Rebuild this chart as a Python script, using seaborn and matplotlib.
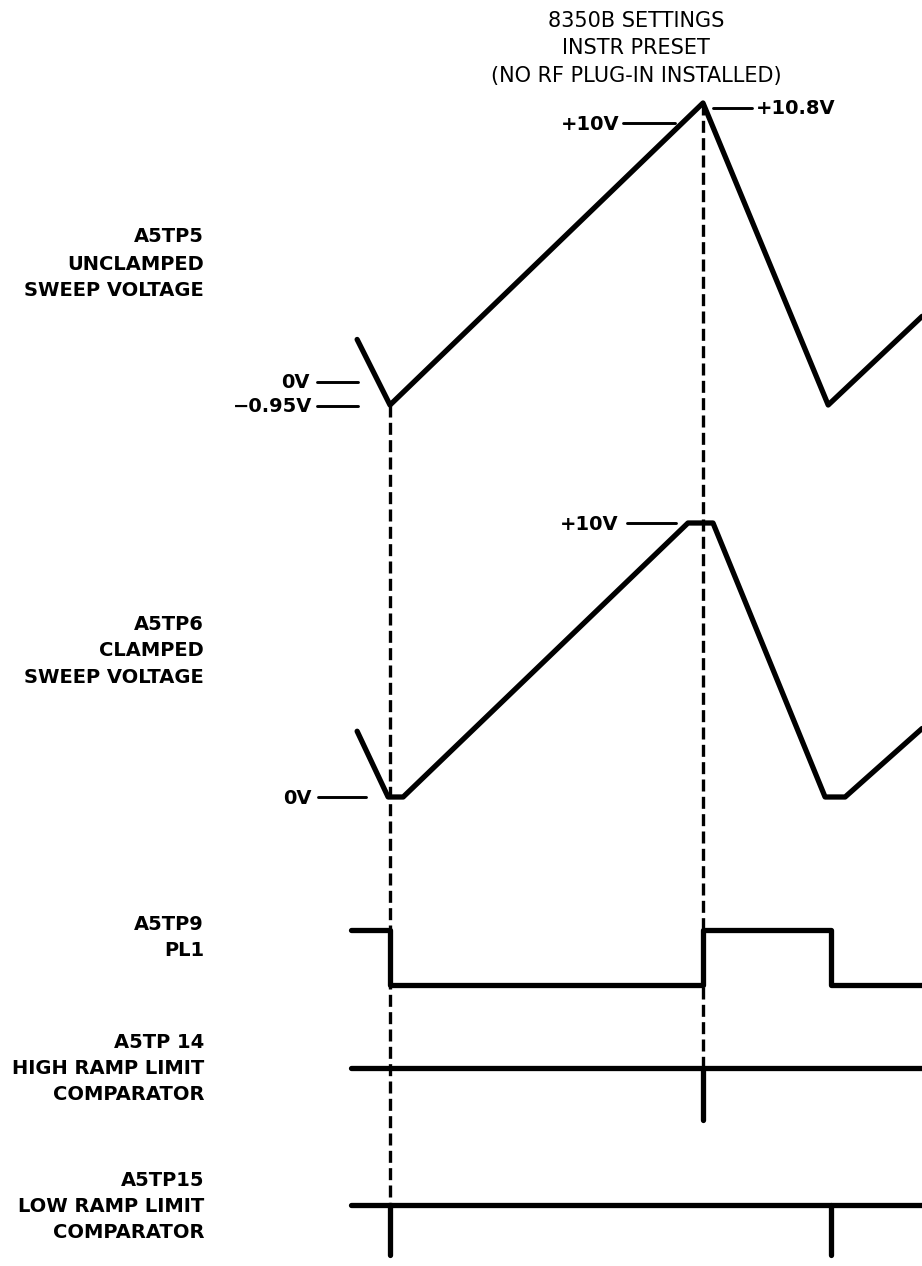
import matplotlib
matplotlib.use("Agg")
import matplotlib.pyplot as plt
import seaborn as sns

sns.set_theme(style="white")
plt.rcParams["font.family"] = ["DejaVu Sans"]
plt.rcParams["text.color"] = "black"

W, H = 922, 1266

# ---------------- data (time in % of sweep, volts) ----------------
unclamped_t = [-10.5, 0, 100, 140, 170]
unclamped_v = [1.6, -0.95, 10.8, -0.95, 2.5]

clamped_t = [-10.5, -0.6, 4.2, 95.2, 103.2, 139, 145.4, 170]
clamped_v = [2.4, 0, 0, 10, 10, 0, 0, 2.5]

pl1_t = [-12.5, 0, 100, 141, 170]
pl1_v = [1, 0, 1, 0, 0]

cmp_span = [-12.5, 170]
high_cmp_events = [100]
low_cmp_events = [0, 141]

marker_times = [0, 100]

trace_titles = [
    ["A5TP5", "UNCLAMPED", "SWEEP VOLTAGE"],
    ["A5TP6", "CLAMPED", "SWEEP VOLTAGE"],
    ["A5TP9", "PL1"],
    ["A5TP 14", "HIGH RAMP LIMIT", "COMPARATOR"],
    ["A5TP15", "LOW RAMP LIMIT", "COMPARATOR"],
]
header = ["8350B SETTINGS", "INSTR PRESET", "(NO RF PLUG-IN INSTALLED)"]

# ---------------- layout (pixels) ----------------
X0, PXT = 390.0, 3.13          # pixel of t=0, pixels per time unit
XLIM = ((0 - X0) / PXT, (W - X0) / PXT)

fig = plt.figure(figsize=(W / 100, H / 100), dpi=100)
fig.patch.set_facecolor("white")


def new_ax():
    ax = fig.add_axes([0, 0, 1, 1])
    ax.set_xlim(*XLIM)
    ax.set_axis_off()
    ax.patch.set_alpha(0)
    return ax


def vscale(ax, va, pa, vb, pb):
    k = (pb - pa) / (vb - va)
    ax.set_ylim(va + (H - pa) / k, va + (0 - pa) / k)
    return lambda v: pa + (v - va) * k


LW = 3.8
kw = dict(color="black", linewidth=LW, sort=False, estimator=None,
          solid_capstyle="round", solid_joinstyle="round", legend=False)

# trace 1 : unclamped sweep
ax1 = new_ax()
py1 = vscale(ax1, -0.95, 405, 10.8, 103)
sns.lineplot(x=unclamped_t, y=unclamped_v, ax=ax1, **kw)

# trace 2 : clamped sweep
ax2 = new_ax()
py2 = vscale(ax2, 0, 797, 10, 523)
sns.lineplot(x=clamped_t, y=clamped_v, ax=ax2, **kw)

# PL1
ax3 = new_ax()
vscale(ax3, 0, 985, 1, 930)
sns.lineplot(x=pl1_t, y=pl1_v, ax=ax3, drawstyle="steps-post", **kw)

# comparators
ax4 = new_ax()
vscale(ax4, 0, 1068, -1, 1120)
sns.lineplot(x=cmp_span, y=[0, 0], ax=ax4, **kw)
ax4.vlines(high_cmp_events, -1, 0, color="black", linewidth=LW, capstyle="round")

ax5 = new_ax()
vscale(ax5, 0, 1205, -1, 1255)
sns.lineplot(x=cmp_span, y=[0, 0], ax=ax5, **kw)
ax5.vlines(low_cmp_events, -1, 0, color="black", linewidth=LW, capstyle="round")

# dashed markers (time axis, pixel y)
axd = new_ax()
axd.set_ylim(H, 0)
ends = [(py1(min(unclamped_v)), 1205), (py1(max(unclamped_v)), 1068)]
for t, (ya, yb) in zip(marker_times, ends):
    axd.plot([t, t], [ya, yb], color="black", linewidth=2.4,
             dashes=(3.6, 1.6))

# annotation overlay in pixel space
axp = fig.add_axes([0, 0, 1, 1])
axp.set_xlim(0, W)
axp.set_ylim(H, 0)
axp.set_axis_off()
axp.patch.set_alpha(0)

lab_kw = dict(fontsize=14, fontweight="bold", color="black", va="center")
leaders = [
    ("+10V", 619, 123, 623, 675, "right"),
    ("+10.8V", 756, 108, 713, 752, "left"),
    ("0V", 310, 382, 317, 358, "right"),
    ("\u22120.95V", 312, 406, 317, 358, "right"),
    ("+10V", 618, 523, 627, 676, "right"),
    ("0V", 312, py2(0), 318, 366, "right"),
]
for txt, tx, ty, x1, x2, ha in leaders:
    axp.text(tx, ty + 1, txt, ha=ha, **lab_kw)
    axp.plot([x1, x2], [ty, ty], color="black", linewidth=2.1)

# left titles (line centres)
title_rows = [
    [236, 263, 290],
    [623.5, 650, 676.5],
    [924, 950],
    [1042, 1068, 1094],
    [1179, 1205, 1231],
]
for lines, ys in zip(trace_titles, title_rows):
    for txt, y in zip(lines, ys):
        axp.text(204, y + 1, txt, ha="right", va="center", fontsize=14,
                 fontweight="bold")

for txt, y in zip(header, [20, 47, 75]):
    axp.text(636, y + 1, txt, ha="center", va="center", fontsize=15)

fig.savefig("out.png", dpi=100, facecolor="white")
